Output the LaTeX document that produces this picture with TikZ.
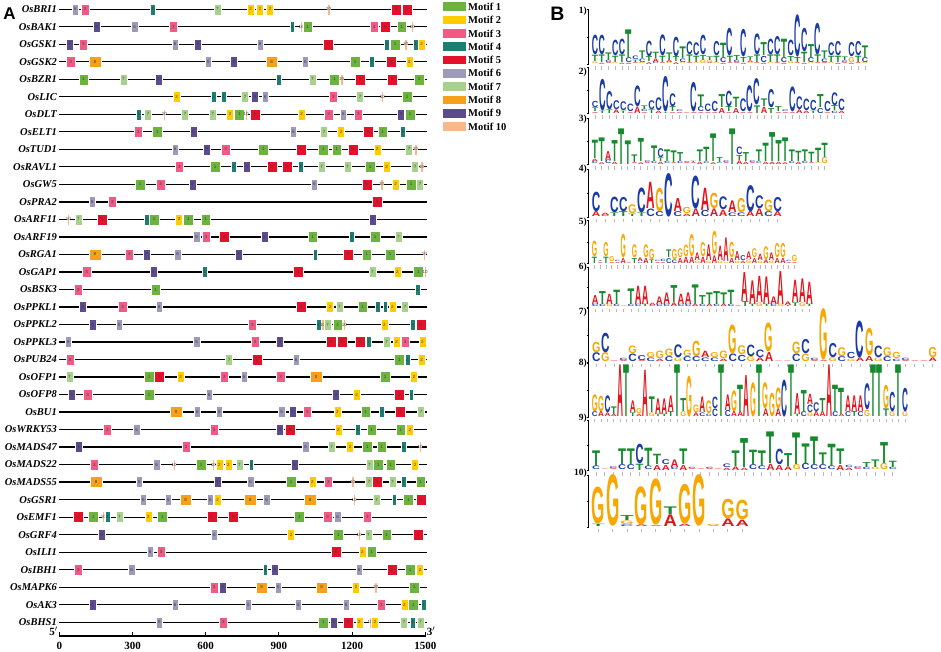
\documentclass[tikz,border=0pt]{standalone}
\usepackage{fontspec}
\usepackage{graphicx}
\setmainfont{Liberation Serif}
\newfontfamily\logofamily{Liberation Sans}
\definecolor{m1}{HTML}{6DB33F}
\definecolor{m2}{HTML}{FFCC00}
\definecolor{m3}{HTML}{EF5B84}
\definecolor{m4}{HTML}{1D7F72}
\definecolor{m5}{HTML}{E5102A}
\definecolor{m6}{HTML}{9D9BBA}
\definecolor{m7}{HTML}{A9D18E}
\definecolor{m8}{HTML}{F7A11A}
\definecolor{m9}{HTML}{5C4B8E}
\definecolor{m10}{HTML}{F6B98E}
\definecolor{lcA}{HTML}{E3141B}
\definecolor{lcC}{HTML}{1A3BA6}
\definecolor{lcG}{HTML}{F7A800}
\definecolor{lcT}{HTML}{158B2E}
\expandafter\def\csname mw1\endcsname{9.7}
\expandafter\def\csname mw2\endcsname{7}
\expandafter\def\csname mw3\endcsname{8.3}
\expandafter\def\csname mw4\endcsname{4.7}
\expandafter\def\csname mw5\endcsname{10}
\expandafter\def\csname mw6\endcsname{6.5}
\expandafter\def\csname mw7\endcsname{7}
\expandafter\def\csname mw8\endcsname{11.7}
\expandafter\def\csname mw9\endcsname{7}
\expandafter\def\csname mw10\endcsname{2.6}
\tikzset{
 genelab/.style={anchor=east,inner sep=0pt,font=\fontsize{10.5}{12}\selectfont\bfseries\itshape},
 motbox/.style={rectangle,inner sep=0pt,minimum height=11pt,draw=white,line width=0.25pt,font=\logofamily\fontsize{4.5}{5}\selectfont,text=black!75},
 legbox/.style={rectangle,inner sep=0pt,minimum width=22.4pt,minimum height=8.5pt},
 legtext/.style={anchor=west,inner sep=0pt,font=\fontsize{10.5}{12}\selectfont\bfseries},
 axlab/.style={inner sep=0pt,font=\fontsize{11}{12}\selectfont\bfseries},
 loglab/.style={anchor=east,inner sep=0pt,font=\fontsize{9.5}{11}\selectfont\bfseries},
 panlab/.style={inner sep=0pt,font=\logofamily\bfseries\fontsize{17}{17}\selectfont},
}
\newcommand\gene[3]{%
 \pgfmathsetmacro\gy{9.3+17.51*#1}%
 \node[genelab] (g#1) at (57,\gy) {#2};
 \draw[line width=1.2] (59.3,\gy) -- (427,\gy);
 \foreach \m/\x in {#3} {\node[motbox,fill=m\m,minimum width=\csname mw\m\endcsname pt] at (\x,\gy) {\makebox[0pt]{\m}};}
}
\newcommand\seqlogo[8]{%
 \node[loglab] (lab#1) at (587,#2) {#1)};
 \draw[line width=0.5] (588.5,#6) -- (588.5,{#6-2*#7});
 \foreach \k in {0,1,2} {\draw[line width=0.4] (588.5,{#6-\k*#7}) -- (586.6,{#6-\k*#7});}
 \foreach \stk [count=\ci from 0] in {#8} {%
  \pgfmathsetmacro\cx{#3+#4*\ci}%
  \xdef\cury{#6}%
  \foreach \lett/\hgt in \stk {%
   \pgfmathsetmacro\hh{max(\hgt*26.67-0.4,0.5)}%
   \node[inner sep=0pt,outer sep=0pt,anchor=south] at (\cx,\cury) {\resizebox*{#5pt}{\hh pt}{\logofamily\bfseries\color{lc\lett}\lett}};
   \pgfmathsetmacro\ny{\cury-\hgt*26.67}\xdef\cury{\ny}%
  }
  \draw[gray!55,line width=0.9] (\cx,{#6+2}) -- (\cx,{#6+5.5});
 }
}
\begin{document}
\begin{tikzpicture}[x=1pt,y=-1pt]
\useasboundingbox[fill=white] (0,0) rectangle (941,651);
% ---------------- Panel A ----------------
\node[panlab] (pA) at (9.5,14) {A};
\gene{0}{OsBRI1}{6/75.3,3/85,4/152.7,7/217.3,2/250.7,2/260,2/270,10/328.7,5/396,5/406.7}
\gene{1}{OsBAK1}{9/96.7,6/134.7,3/173.3,4/292,10/301,1/307.7,3/374,5/385,1/401.7,10/412.3}
\gene{2}{OsGSK1}{9/69.7,3/83.3,6/175,9/198,6/260,5/327.7,4/386.7,1/395,10/405.7,4/415.3,2/421.7}
\gene{3}{OsGSK2}{3/70.7,8/95,6/208.3,9/234,8/271.7,6/305.3,1/355,4/371.7,5/391.3,2/409.3}
\gene{4}{OsBZR1}{1/83.7,7/123.3,9/158.3,4/278.7,7/312.3,1/334.3,10/341.7,5/360,5/392,1/419}
\gene{5}{OsLIC}{2/176.7,4/213.3,4/223.3,7/245,9/255,6/265,3/333.3,7/360,10/382.3,1/407}
\gene{6}{OsDLT}{4/138.3,7/148,10/164.3,7/185,7/212.7,2/230,1/239.3,10/246,5/255,2/301.7,3/328.7,6/343.3,3/358.3,9/401,1/410}
\gene{7}{OsELT1}{3/138.3,1/157.3,9/193.3,6/293.3,7/324,2/341,5/368.3,1/382.7,4/402.7}
\gene{8}{OsTUD1}{6/175,9/206.7,3/225.7,1/263.3,5/300.7,1/323.3,1/336.7,5/352.7,2/377.3,7/409,10/415.7}
\gene{9}{OsRAVL1}{3/179.3,1/215,4/233.3,9/246.7,5/271.7,5/287.3,4/300.7,7/321.7,7/347.3,1/370,2/386.7,7/415,10/421.7}
\gene{10}{OsGW5}{1/140,3/160.7,9/192.3,6/314.3,5/366.7,10/381.7,2/395.7,1/411,7/420}
\gene{11}{OsPRA2}{6/92.3,3/112.3,5/377.3}
\gene{12}{OsARF11}{10/68.3,7/78.3,5/102,4/146.7,1/154,2/179,1/188.3,1/205.7,9/372.7}
\gene{13}{OsARF19}{6/196.7,3/206,5/224.3,9/264.3,1/312.7,4/351.7,1/375,7/398.3}
\gene{14}{OsRGA1}{8/95,3/129.3,9/146.7,6/177.7,9/238.3,4/315,5/348.3,1/366.7,1/390,10/424.3}
\gene{15}{OsGAP1}{3/86.7,9/153.3,4/204.3,5/298.3,7/372.3,2/397.3,1/418.3,10/425}
\gene{16}{OsBSK3}{3/78.3,1/155.7,4/417.7}
\gene{17}{OsPPKL1}{9/82.7,3/122.7,6/159,5/301,2/330,7/339.3,1/362.7,4/377.3,4/385,2/392.3,7/405}
\gene{18}{OsPPKL2}{9/92.7,6/119.3,3/252.3,4/318.3,10/322.7,7/327.7,1/337.7,10/344.3,2/384.3,4/412.7,5/420.7}
\gene{19}{OsPPKL3}{6/68.3,6/196.7,3/255,9/280,5/331,5/341.7,5/360,4/368.3,7/386.7,2/396.7,3/405,2/422.3}
\gene{20}{OsPUB24}{3/70,7/229,5/256.7,6/296,1/399.3,4/407.3,2/421.7}
\gene{21}{OsOFP1}{7/69.3,1/149,5/159.3,2/180.7,3/224,6/244,3/280.7,8/316,1/385,2/414}
\gene{22}{OsOFP8}{9/71.7,3/87.7,1/149,6/209,9/336,2/356.7,5/399.3,4/411}
\gene{23}{OsBU1}{8/176,6/197.3,6/219.3,6/281.7,9/292.3,3/307.3,2/337.3,1/365.7,4/381.7,5/400,7/421}
\gene{24}{OsWRKY53}{3/107.3,6/136.7,3/214,9/280,5/290,2/338.3,4/357.7,1/371.7,1/400.7,2/410}
\gene{25}{OsMADS47}{9/79,3/186,6/305.7,7/331.7,2/350,1/367.3,1/381.7,4/403.3,10/420}
\gene{26}{OsMADS22}{3/94.3,6/156.7,10/174,1/201,10/213.3,2/219.3,2/228.3,7/239.3,4/251,9/294.3,7/369.3,1/378.3,1/390.7,2/415}
\gene{27}{OsMADS55}{8/96,6/139.3,9/217.3,6/250.7,1/291,2/312.3,3/328.3,10/352.7,7/369,5/377.3,7/392.3,4/403.3,1/420.7}
\gene{28}{OsGSR1}{6/143.3,6/168.3,8/185.7,6/210.3,2/217.7,8/250,6/266.7,8/310,10/354,7/376.7,4/394,1/408.3,5/420.7}
\gene{29}{OsEMF1}{5/78.3,1/93.3,10/103.3,4/107.3,7/119.3,2/148.3,1/162.3,5/211.7,5/233.3,1/299.3,3/327.7,6/337.7,3/367.3}
\gene{30}{OsGRF4}{9/101.7,6/214.3,2/291,1/338.3,10/359,7/368.3,1/386.7,5/418.3}
\gene{31}{OsILI1}{6/150,3/161,5/335.7,2/362.3,1/371.7}
\gene{32}{OsIBH1}{3/78.3,6/131.7,4/265,9/275,6/359,5/391.7,1/410,2/420}
\gene{33}{OsMAPK6}{3/214,9/222.7,8/261.7,6/278.3,8/321.7,2/356,10/375.7,1/414.3}
\gene{34}{OsAK3}{9/92.3,6/175,6/248.3,6/298.3,6/346,3/381,2/404.3,1/413.3,4/423.3}
\gene{35}{OsBHS1}{6/159.3,3/223.3,1/323.3,9/333.3,5/348.3,2/359.3,10/370,2/375,7/404,4/412.7,7/420.7}
% axis
\draw[line width=1.2] (59.3,636) -- (425.5,636);
\foreach \v in {0,300,...,1500} {
 \pgfmathsetmacro\tx{59.3+\v*0.244}
 \draw[line width=0.9] (\tx,632) -- (\tx,636);
 \node[axlab] (ax\v) at (\tx,645.5) {\v};
}
\node[axlab] (p5) at (53.5,631) {5$'$};
\node[axlab] (p3) at (431,631) {3$'$};
% legend
\foreach \k in {1,...,10} {
 \node[legbox,fill=m\k] (leg\k) at (454.5,{6.7+13.33*(\k-1)}) {};
 \node[legtext] (legt\k) at (468,{6.7+13.33*(\k-1)}) {Motif \k};
}
% ---------------- Panel B ----------------
\node[panlab,font=\logofamily\bfseries\fontsize{19.5}{19.5}\selectfont] (pB) at (557.5,13.7) {B};
\seqlogo{1}{10.8}{595}{6.75}{6.3}{64}{27.3}{
{G/.08,T/.25,C/.75},{A/.06,T/.3,C/.75},{A/.05,C/.1,T/.3},{G/.06,T/.25,C/.6},{A/.06,T/.3,C/.6},
{A/.06,C/.2,T/1.05},{A/.05,T/.1,C/.15},{G/.06,C/.15,T/.3},{A/.08,T/.2,C/.6},{C/.06,A/.15,T/.25},
{A/.05,T/.25,C/.8},{G/.05,A/.1,T/.3},{A/.08,T/.2,C/.75},{G/.05,C/.15,T/.45},{A/.05,T/.3,C/.5},
{G/.05,T/.25,C/.5},{G/.15,T/.2,C/.75},{A/.05,G/.1,T/.15},{G/.06,T/.25,C/.55},{A/.06,C/.2,T/.55},
{A/.05,T/.25,C/1.05},{A/.05,C/.1,T/.2},{A/.06,T/.2,C/1.05},{G/.05,A/.08,T/.15},{A/.05,T/.3,C/.8},
{A/.06,C/.25,T/.5},{G/.06,T/.3,C/.6},{A/.05,T/.3,C/.7},{A/.06,C/.2,T/.7},{G/.1,T/.2,C/.6},
{A/.05,T/.2,C/1.6},{A/.06,T/.4,C/.9},{G/.06,C/.2,T/.5},{A/.05,T/.3,C/1.2},{A/.05,C/.15,T/.3},
{G/.06,T/.25,C/.5},{A/.06,T/.25,C/.55},{A/.05,C/.08,T/.15},{A/.06,G/.2,C/.55},{A/.05,T/.25,C/.55},
{G/.05,C/.2,T/.45}}
\seqlogo{2}{72}{595.2}{7.04}{6.5}{113.3}{23.3}{
{A/.05,T/.15,C/.25},{T/.1,C/1.2},{T/.15,C/.7},{A/.15,C/.35},{T/.1,C/.35},{A/.05,C/.3},
{A/.25,C/.8},{A/.05,C/.1,T/.15},{T/.15,C/.35},{A/.1,C/.5},{T/.05,C/1.35},{A/.05,T/.2,C/.5},
{A/.05,C/.08},{A/.04},{A/.05,C/1.12},{A/.05,C/.2,T/.45},{A/.05,C/.3},{A/.05,C/.4},
{A/.2,T/.5},{A/.05,T/.2,C/.6},{A/.2,T/.4},{A/.05,C/.5},{A/.05,C/1.0},{T/.3,C/1.0},
{A/.25,T/.3},{T/.2,C/.7},{A/.05,T/.2},{A/.05,C/.08},{A/.05,C/.95},{A/.15,C/.5},
{A/.1,C/.45},{T/.1,C/.4},{C/.2,T/.5},{A/.05,C/.4},{C/.1,T/.2,C/.5},{A/.1,C/.45}}
\seqlogo{3}{119}{595}{6.56}{6.1}{164}{23}{
{C/.1,A/.1,T/.7},{A/.08,T/.9},{C/.15,A/.35},{A/.1,T/.8},{T/1.35},{T/.9},
{A/.05,T/.3},{A/.08,T/.88},{A/.05,C/.08},{C/.1,T/.6},{A/.1,T/.15,C/.35},{C/.1,T/.45},
{A/.05,T/.45},{C/.1,T/.35},{A/.05,C/.05},{A/.05,T/.06},{A/.1,T/.45},{C/.08,T/.55},
{A/.08,T/1.05},{C/.05,T/.2},{A/.05,C/.08},{T/1.35},{A/.15,T/.2,C/.3},{A/.1,T/.35},
{A/.05,C/.08},{C/.08,T/.45},{A/.1,T/.7},{A/.1,T/1.1},{A/.1,T/.8},{A/.08,T/.9},
{C/.1,T/.45},{A/.1,T/.4},{C/.1,T/.45},{A/.05,T/.4},{G/.05,T/.55},{G/.25,T/.55}}
\seqlogo{4}{169}{596.2}{9.07}{8.5}{216.7}{24}{
{A/.2,C/.75},{C/.05,A/.1},{T/.15,C/.6},{T/.2,C/.55},{T/.1,G/.35},{T/.15,C/.95},
{C/.3,A/1.0},{C/.2,G/.9},{C/1.65},{C/.2,A/.5},{A/.1,G/.25},{A/.3,C/1.25},
{C/.25,A/.85},{A/.3,G/.6},{A/.25,C/.5},{C/.15,A/.45},{C/.15,G/.55},{A/.2,C/1.0},
{A/.3,C/.5},{C/.2,G/.45},{A/.2,C/.55}}
\seqlogo{5}{222}{594.6}{5.71}{5.3}{263.3}{21.6}{
{T/.25,G/.6},{A/.05,T/.05},{T/.25,G/.55},{A/.05,G/.2},{A/.05,C/.06},{A/.2,G/.9},
{A/.04},{T/.2,G/.5},{C/.05,A/.15},{A/.2,G/.5},{T/.15,G/.4},{A/.05,C/.06},
{A/.05,C/.1},{C/.2,T/.3},{C/.15,G/.4},{A/.2,G/.35},{A/.25,G/.45},{A/.25,G/.85},
{G/.1,A/.3},{A/.25,G/.55},{G/.1,A/.6},{A/.3,G/.9},{G/.1,A/.55},{G/.05,A/.9},
{A/.2,G/.6},{G/.1,A/.35},{A/.1,C/.2},{G/.15,A/.3},{A/.2,G/.35},{G/.1,A/.25},
{A/.15,G/.5},{G/.1,A/.3},{A/.2,G/.55},{A/.2,G/.55},{A/.05,C/.06},{A/.05,G/.25}}
\seqlogo{6}{267}{595.3}{7.14}{6.7}{306.7}{20}{
{C/.1,A/.35},{C/.1,T/.5},{G/.1,A/.4},{C/.1,T/.55},{A/.03},{C/.1,T/.6},
{C/.1,A/.7},{T/.1,A/.7},{C/.05,A/.1},{C/.1,A/.3},{C/.1,A/.45},{A/.15,T/.65},
{C/.1,A/.4},{C/.1,A/.45},{A/.1,T/.75},{C/.1,T/.35},{A/.1,T/.45},{C/.1,T/.5},
{A/.1,T/.45},{C/.1,T/.55},{A/.04},{T/.2,A/1.1},{T/.1,A/.9},{G/.15,A/1.0},
{T/.1,A/1.05},{C/.1,A/.3},{G/.1,A/1.25},{T/.05,A/.15},{T/.15,A/.85},{G/.15,A/.9},
{T/.1,A/.85}}
\seqlogo{7}{312}{596.2}{9.1}{8.4}{361.7}{26.7}{
{C/.35,G/.4},{G/.35,C/.75},{A/.04},{A/.05,C/.1},{C/.3,G/.3},{A/.05,C/.2},
{C/.15,G/.2},{A/.1,G/.3},{C/.2,G/.3},{G/.15,C/.5},{C/.2,G/.25},{C/.2,G/.6},
{C/.15,A/.25},{C/.15,G/.2},{A/.1,G/.3},{C/.3,G/1.1},{C/.25,G/.35},{G/.2,C/.45},
{A/.15,C/.3},{A/.35,G/1.1},{A/.03},{A/.03},{C/.3,G/.45},{G/.3,C/.55},
{A/.05,C/.1},{A/.05,G/1.95},{G/.15,C/.55},{C/.2,G/.35},{G/.1,C/.25},{A/.15,C/1.4},
{A/.2,G/1.05},{G/.15,C/.45},{C/.2,G/.35},{C/.1,G/.25},{A/.05,C/.1},{A/.04},
{A/.04},{A/.15,G/.4}}
\seqlogo{8}{363.5}{594.8}{6.33}{5.9}{416.7}{26.7}{
{C/.2,G/.65},{A/.2,G/.6},{A/.15,C/.65},{A/.1,T/.3},{A/1.95},{T/1.95},
{T/.15,A/.45},{A/.1,G/.2},{A/1.75},{G/.15,T/.6},{T/.1,A/.6},{T/.1,A/.6},
{T/.2,A/.6},{T/1.95},{G/.2,T/.5},{G/1.55},{A/.15,G/.3},{C/.15,A/.6},
{C/.1,G/.5},{C/.3,C/.45},{T/1.95},{C/.25,A/.6},{A/.2,G/.8},{A/.2,T/1.0},
{A/1.55},{G/1.3},{T/1.95},{A/.3,G/1.0},{G/.9},{A/.3,G/.8},
{C/1.4},{T/1.95},{T/.1,A/.8},{C/.2,T/.8},{G/.15,C/.3,A/.4},{A/.2,C/.35},
{A/.2,T/.5},{A/1.95},{C/.2,T/1.0},{A/.1,T/1.0},{C/.2,A/.6},{T/.2,A/.6},
{C/.2,A/.6},{G/.25,C/1.0},{T/1.95},{T/1.95},{T/.3,G/.9},{G/.2,C/.75},
{T/1.95},{G/.2,C/.9}}
\seqlogo{9}{418.5}{596}{8.73}{8}{470}{25}{
{C/.15,T/.6},{A/.03},{A/.05,C/.08},{C/.2,T/.6},{C/.2,T/.6},{T/.25,C/.75},
{C/.15,T/.7},{A/.2,T/.4},{A/.2,C/.2},{C/.1,A/.3},{A/.2,T/.6},{A/.05,C/.06},
{A/.04},{A/.05,C/.06},{A/.04},{A/.1,C/.15},{A/.15,T/.6},{A/.1,T/1.1},
{C/.2,T/.55},{C/.15,T/.6},{A/.25,T/1.2},{A/.2,C/.6},{A/.15,T/.5},{G/.2,T/1.2},
{C/.25,T/.75},{C/.2,T/1.05},{C/.2,T/.45},{C/.15,T/.85},{A/.2,T/.6},{A/.1,C/.1},
{A/.05,C/.08},{C/.1,T/.2},{G/.1,T/.3},{G/.25,T/.8},{C/.1,T/.25}}
\seqlogo{10}{473.5}{598.3}{14.4}{13.3}{526.7}{26}{
{T/.1,G/1.4},{G/1.95},{C/.08,G/.15,T/.2},{A/.08,G/1.45},{A/.05,G/1.75},{A/.45,T/.3},
{A/.1,G/1.5},{G/1.95},{A/.04,G/.06},{A/.3,G/.75},{A/.25,G/.75}}
\end{tikzpicture}
\end{document}
